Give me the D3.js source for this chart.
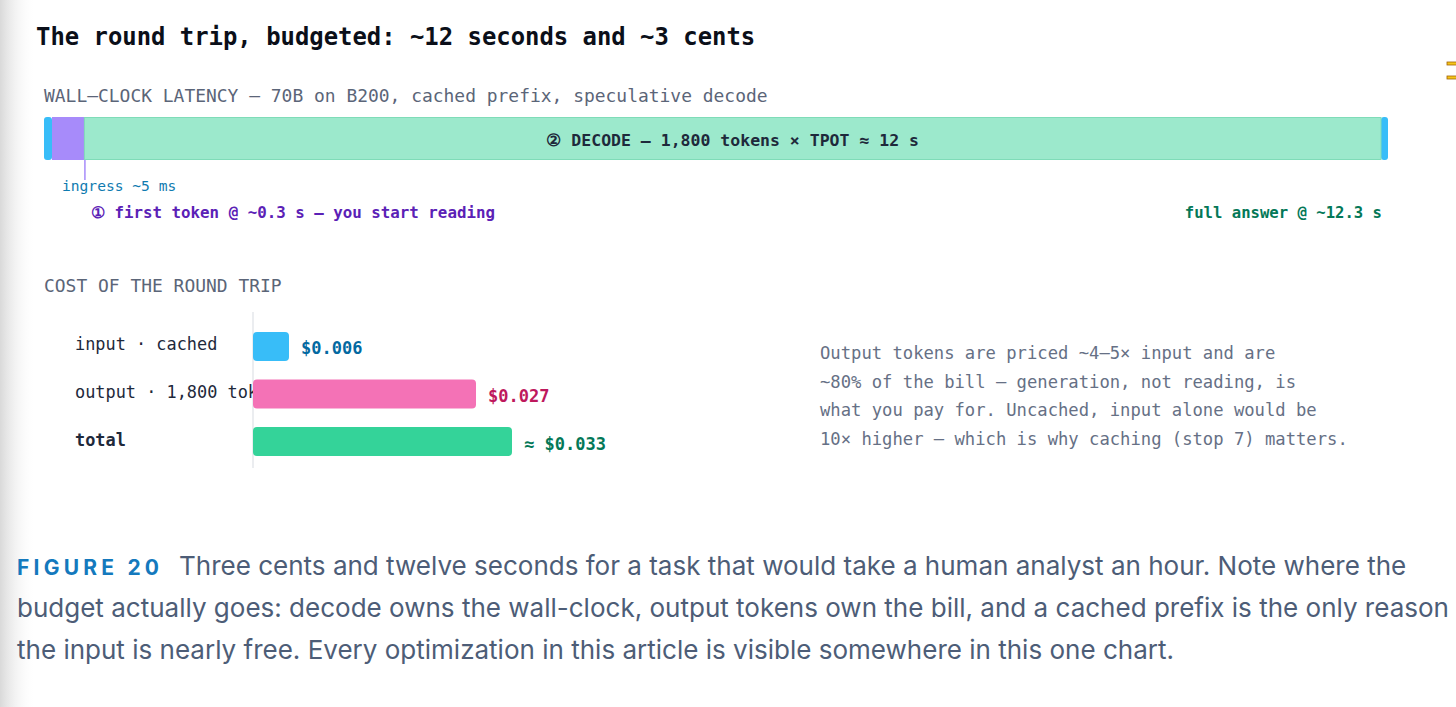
<!DOCTYPE html>
<html>
<head>
<meta charset="utf-8"/>
<title>Round trip budget</title>
<script src="https://cdn.jsdelivr.net/npm/d3@7"></script>
<style>
  body { margin: 0; background: #fff; }
  svg { display: block; }
</style>
</head>
<body>
<svg id="chart" width="1456" height="707"></svg>
<script>
// latency phases (seconds)
var phaseNames = ["ingress", "first token", "decode", "egress"];
var phaseSeconds = [0.005, 0.3, 12, 0.005];
var phaseColors = ["#38bdf8", "#a78bfa", "#9ce9cc", "#38bdf8"];

// cost of the round trip (dollars)
var costCats = ["input · cached", "output · 1,800 tokens", "total"];
var costValues = [0.0046, 0.0285, 0.0331];
var costLabels = ["$0.006", "$0.027", "≈ $0.033"];
var costColors = ["#38bdf8", "#f472b6", "#34d399"];
var costTextColors = ["#0369a1", "#be185d", "#047857"];

var noteLines = [
  "Output tokens are priced ~4–5× input and are",
  "~80% of the bill — generation, not reading, is",
  "what you pay for. Uncached, input alone would be",
  "10× higher — which is why caching (stop 7) matters."
];

var captionLines = [
  "Three cents and twelve seconds for a task that would take a human analyst an hour. Note where the",
  "budget actually goes: decode owns the wall-clock, output tokens own the bill, and a cached prefix is the only reason",
  "the input is nearly free. Every optimization in this article is visible somewhere in this one chart."
];

var mono = "'DejaVu Sans Mono', monospace";
var sans = "Inter, 'Noto Sans', sans-serif";

var svg = d3.select("#chart");

// page shadow on the left edge
var defs = svg.append("defs");
var grad = defs.append("linearGradient").attr("id", "edge");
grad.append("stop").attr("offset", "0%").attr("stop-color", "#d9d9d9");
grad.append("stop").attr("offset", "100%").attr("stop-color", "#ffffff").attr("stop-opacity", 0);
svg.append("rect").attr("x", 0).attr("y", 0).attr("width", 36).attr("height", 707).attr("fill", "url(#edge)");

// little yellow marks at the right edge
[62, 76].forEach(function(y) {
  svg.append("rect").attr("x", 1447).attr("y", y).attr("width", 12).attr("height", 3)
    .attr("fill", "#f5c518").attr("stroke", "#a16207").attr("stroke-width", 0.8);
});

svg.append("text")
  .attr("x", 36).attr("y", 45)
  .style("font-family", mono).style("font-weight", "bold").style("font-size", "23.9px")
  .style("fill", "#0b0f19")
  .text("The round trip, budgeted: ~12 seconds and ~3 cents");

svg.append("text")
  .attr("x", 44).attr("y", 102)
  .style("font-family", mono).style("font-size", "17.95px").style("fill", "#5b6578")
  .text("WALL–CLOCK LATENCY — 70B on B200, cached prefix, speculative decode");

// ---- timeline ----
var capW = 8;
var x = d3.scaleLinear()
  .domain([0, phaseSeconds[1] + phaseSeconds[2]])
  .range([44 + capW, 1388 - capW + 1]);

var segs = [];
segs.push({ x0: x(0) - capW, x1: x(0), c: phaseColors[0] });
segs.push({ x0: x(0), x1: x(phaseSeconds[1]), c: phaseColors[1] });
segs.push({ x0: x(phaseSeconds[1]), x1: x(phaseSeconds[1] + phaseSeconds[2]), c: phaseColors[2] });
segs.push({ x0: x(phaseSeconds[1] + phaseSeconds[2]), x1: x(phaseSeconds[1] + phaseSeconds[2]) + capW - 1, c: phaseColors[3] });

var barTop = 117, barH = 43;
var tl = svg.append("g");
// decode body first, caps on top
tl.selectAll("rect.seg")
  .data([segs[2], segs[1], segs[0], segs[3]])
  .enter().append("rect")
  .attr("class", "seg")
  .attr("x", function(d) { return d.x0; })
  .attr("y", barTop)
  .attr("width", function(d) { return d.x1 - d.x0; })
  .attr("height", barH)
  .attr("rx", function(d) { return d.c === "#38bdf8" ? 3 : 0; })
  .attr("fill", function(d) { return d.c; });
tl.append("rect")
  .attr("x", segs[2].x0).attr("y", barTop + 0.5)
  .attr("width", segs[2].x1 - segs[2].x0).attr("height", barH - 1)
  .attr("fill", "none").attr("stroke", "#7fdcb8").attr("stroke-width", 1);

tl.append("text")
  .attr("x", (segs[2].x0 + segs[2].x1) / 2).attr("y", 146)
  .attr("text-anchor", "middle")
  .style("font-family", mono).style("font-weight", "bold").style("font-size", "16.5px")
  .style("fill", "#1e293b")
  .text("② DECODE — 1,800 tokens × TPOT ≈ 12 s");

tl.append("line")
  .attr("x1", x(phaseSeconds[1]) + 0.5).attr("x2", x(phaseSeconds[1]) + 0.5)
  .attr("y1", barTop + barH).attr("y2", 180)
  .attr("stroke", "#a78bfa").attr("stroke-width", 1.5);

tl.append("text")
  .attr("x", 62).attr("y", 191)
  .style("font-family", mono).style("font-size", "14.6px").style("fill", "#0f7bb0")
  .text("ingress ~5 ms");

tl.append("text")
  .attr("x", 91).attr("y", 218)
  .style("font-family", mono).style("font-weight", "bold").style("font-size", "15.8px")
  .style("fill", "#5b21b6")
  .text("① first token @ ~0.3 s — you start reading");

tl.append("text")
  .attr("x", 1382).attr("y", 218).attr("text-anchor", "end")
  .style("font-family", mono).style("font-weight", "bold").style("font-size", "15.6px")
  .style("fill", "#047857")
  .text("full answer @ ~12.3 s");

// ---- cost bars ----
svg.append("text")
  .attr("x", 44).attr("y", 292)
  .style("font-family", mono).style("font-size", "17.95px").style("fill", "#5b6578")
  .text("COST OF THE ROUND TRIP");

var cx = d3.scaleLinear().domain([0, d3.max(costValues)]).range([253, 512]);
var cy = d3.scaleBand().domain(costCats).range([332, 456]).paddingInner(0.39).paddingOuter(0);

var cost = svg.append("g");
cost.append("line")
  .attr("x1", cx(0)).attr("x2", cx(0)).attr("y1", 312).attr("y2", 468)
  .attr("stroke", "#e5e7eb").attr("stroke-width", 1.5);

cost.selectAll("text.cat")
  .data(costCats)
  .enter().append("text")
  .attr("class", "cat")
  .attr("x", 75)
  .attr("y", function(d) { return cy(d) + cy.bandwidth() / 2 + 4; })
  .style("font-family", mono).style("font-size", "16.9px")
  .style("font-weight", function(d, i) { return i === 2 ? "bold" : "normal"; })
  .style("fill", "#1e293b")
  .text(function(d) { return d; });

cost.selectAll("rect.bar")
  .data(costValues)
  .enter().append("rect")
  .attr("class", "bar")
  .attr("x", cx(0))
  .attr("y", function(d, i) { return cy(costCats[i]); })
  .attr("width", function(d) { return cx(d) - cx(0); })
  .attr("height", cy.bandwidth())
  .attr("rx", 4)
  .attr("fill", function(d, i) { return costColors[i]; });

cost.selectAll("text.val")
  .data(costValues)
  .enter().append("text")
  .attr("class", "val")
  .attr("x", function(d) { return cx(d) + 12; })
  .attr("y", function(d, i) { return cy(costCats[i]) + cy.bandwidth() / 2 + 8; })
  .style("font-family", mono).style("font-weight", "bold").style("font-size", "17px")
  .style("fill", function(d, i) { return costTextColors[i]; })
  .text(function(d, i) { return costLabels[i]; });

svg.append("g").selectAll("text")
  .data(noteLines)
  .enter().append("text")
  .attr("x", 820)
  .attr("y", function(d, i) { return 359 + i * 28.7; })
  .style("font-family", mono).style("font-size", "17.2px").style("fill", "#667085")
  .text(function(d) { return d; });

// ---- caption ----
var cap = svg.append("g");
var fig = cap.append("text")
  .attr("x", 17).attr("y", 575)
  .style("font-family", sans).style("font-weight", "bold").style("font-size", "21px")
  .style("fill", "#1479bd")
  .text("FIGURE 20");
var figW = fig.node().getComputedTextLength();
fig.style("letter-spacing", ((142 - figW) / 8) + "px");

var capText = cap.selectAll("text.cap")
  .data(captionLines)
  .enter().append("text")
  .attr("class", "cap")
  .attr("x", function(d, i) { return i === 0 ? 179 : 17; })
  .attr("y", function(d, i) { return 575 + i * 42; })
  .style("font-family", sans).style("font-size", "24px").style("fill", "#4d5d77")
  .text(function(d) { return d; });

// fit caption size so the second line spans to the right edge
var w2 = capText.nodes()[1].getComputedTextLength();
capText.style("font-size", (24 * 1433 / w2) + "px");
</script>
</body>
</html>
